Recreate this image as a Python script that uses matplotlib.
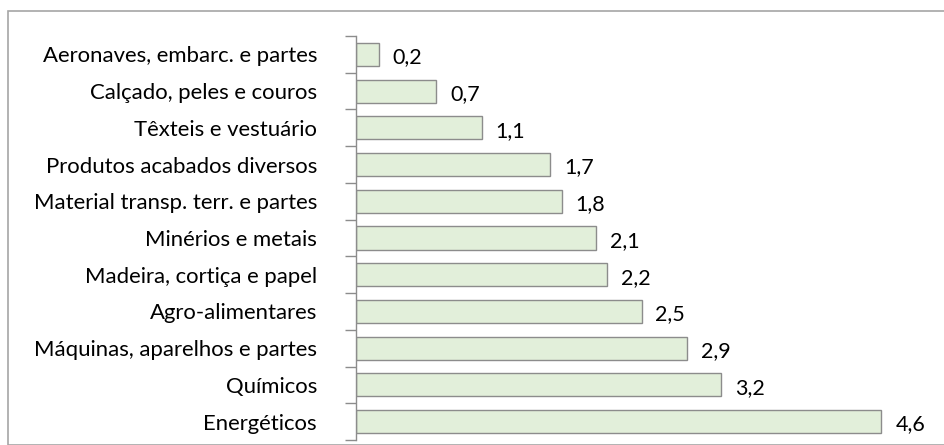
import matplotlib
matplotlib.use("Agg")
import matplotlib.pyplot as plt
from matplotlib.patches import Rectangle
import numpy as np

categories = ["Aeronaves, embarc. e partes", "Calçado, peles e couros", "Têxteis e vestuário",
              "Produtos acabados diversos", "Material transp. terr. e partes", "Minérios e metais",
              "Madeira, cortiça e papel", "Agro-alimentares", "Máquinas, aparelhos e partes",
              "Químicos", "Energéticos"]
values = [0.2, 0.7, 1.1, 1.7, 1.8, 2.1, 2.2, 2.5, 2.9, 3.2, 4.6]

plt.rcParams['font.family'] = ['Lato', 'DejaVu Sans']
W, H = 945, 445
fig = plt.figure(figsize=(W/100, H/100), dpi=100)
fig.patches.append(Rectangle((8/W, 0), (W-8)/W + 0.01, (H-10.5)/H, transform=fig.transFigure,
                             fill=False, edgecolor='#a6a6a6', linewidth=1.2))
ax = fig.add_axes([356/W, 5/H, 571/W, 404/H])
y = np.arange(len(categories))
ax.barh(y, values, height=0.63, color='#e2efda', edgecolor='#8c8c8c', linewidth=1.0)
ax.set_xlim(0, 5.0)
ax.set_ylim(len(categories) - 0.5, -0.5)
for yi, v in zip(y, values):
    ax.text(v + 14/114.3, yi + 0.08, f"{v:.1f}".replace('.', ','), va='center', ha='left',
            fontsize=15.5, color='black')
ax.set_yticks(y)
ax.set_yticklabels(categories, fontsize=15.9)
ax.tick_params(axis='y', which='major', length=0, pad=28)
ax.set_yticks(np.arange(len(categories) + 1) - 0.5, minor=True)
ax.tick_params(axis='y', which='minor', length=8, width=1.0, color='#8c8c8c', direction='out')
ax.set_xticks([])
for s in ['top', 'right', 'bottom']:
    ax.spines[s].set_visible(False)
ax.spines['left'].set_color('#8c8c8c')
ax.spines['left'].set_linewidth(1.0)
fig.savefig("out.png", dpi=100)
